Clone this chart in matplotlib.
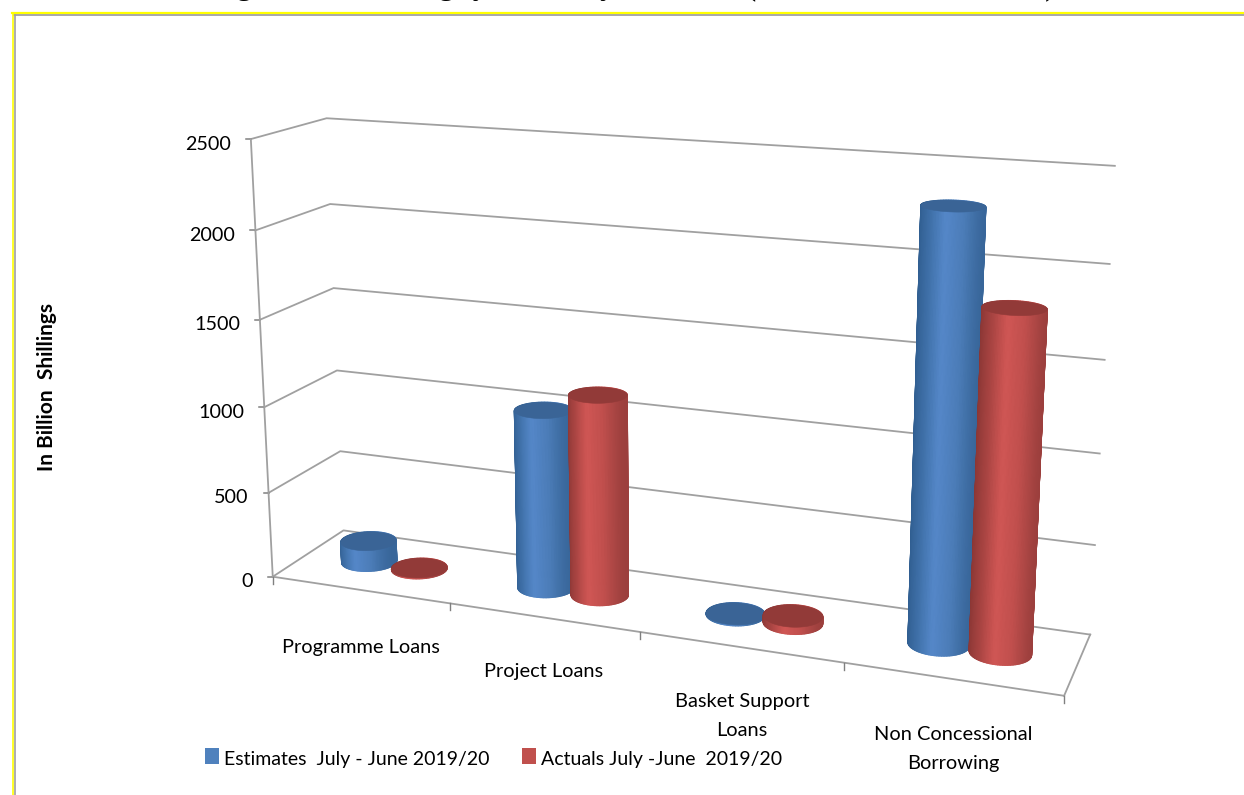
"""Foreign borrowing: 3D-look cylinder chart, drawn with a fitted projective camera."""
import numpy as np
import matplotlib
matplotlib.use("Agg")
import matplotlib.pyplot as plt
from matplotlib.collections import PolyCollection
from matplotlib.colors import LinearSegmentedColormap
from matplotlib.patches import Polygon, Rectangle

plt.rcParams["font.family"] = ["Lato", "DejaVu Sans"]

# ---------- data ----------
categories = ["Programme Loans", "Project Loans", "Basket Support\nLoans", "Non Concessional\nBorrowing"]
estimates = [125, 1030, 5, 2320]
actuals = [5, 1150, 40, 1830]
z_ticks = [0, 500, 1000, 1500, 2000, 2500]
series_names = ["Estimates  July - June 2019/20", "Actuals July -June  2019/20"]
ylabel = "In Billion  Shillings"

# ---------- camera: (x, depth, value) -> picture pixel, fitted on the box corners ----------
N = len(categories)
ZMAX = z_ticks[-1]
anchors = [
    (0, 0, 0, 273, 577), (0, 0, 2500, 250, 140),
    (0, 1, 0, 343, 531), (0, 1, 500, 340, 451), (0, 1, 1000, 337, 371),
    (0, 1, 1500, 333, 288), (0, 1, 2000, 330, 205), (0, 1, 2500, 327, 118),
    (4, 1, 0, 1090, 633), (4, 1, 500, 1095, 545), (4, 1, 1000, 1100, 452),
    (4, 1, 1500, 1105, 360), (4, 1, 2000, 1111, 264), (4, 1, 2500, 1114, 167),
    (1, 0, 0, 450, 604), (2, 0, 0, 640, 633), (3, 0, 0, 843, 664), (4, 0, 0, 1064, 696),
    (0, 0, 500, 270, 493), (0, 0, 1000, 265, 405), (0, 0, 1500, 260, 318), (0, 0, 2000, 255, 230),
]


def fit_camera(pts):
    rows = []
    for x, d, z, u, v in pts:
        w = [x, d, z / ZMAX, 1.0]
        rows.append(w + [0, 0, 0, 0] + [-u / 1000 * c for c in w])
        rows.append([0, 0, 0, 0] + w + [-v / 1000 * c for c in w])
    return np.linalg.svd(np.array(rows))[2][-1].reshape(3, 4)


CAM = fit_camera(anchors)


def project(x, d, z):
    x, d, z = np.broadcast_arrays(np.asarray(x, float), np.asarray(d, float), np.asarray(z, float))
    w = np.stack([x, d, z / ZMAX, np.ones_like(x)])
    p = CAM @ w.reshape(4, -1)
    return (1000 * p[:2] / p[2]).T


GRID = "#a0a0a0"
BLUE_MAP = LinearSegmentedColormap.from_list("b", ["#2f5d8f", "#3f70a8", "#5487c8", "#4c7db8", "#38669a"])
RED_MAP = LinearSegmentedColormap.from_list("r", ["#8a3634", "#a84442", "#cf5654", "#c04f4d", "#9c3f3d"])
BLUE_TOP, RED_TOP = "#3a6496", "#923a38"
BLUE_KEY, RED_KEY = "#4f81bd", "#c0504d"


def cylinder(ax, xc, value, cmap, top, z):
    rx, rd = 0.142, 0.19
    dc = 0.5
    th = np.linspace(-np.pi, np.pi, 121)
    x = xc + rx * np.cos(th)
    d = dc + rd * np.sin(th)
    low = project(x, d, 0 * th)
    high = project(x, d, value + 0 * th)
    quads = [[low[i], low[i + 1], high[i + 1], high[i]] for i in range(len(th) - 1)]
    mid = 0.5 * (th[:-1] + th[1:])
    shade = cmap((np.cos(mid) + 1) / 2)
    order = np.argsort(-np.sin(mid))  # back of the cylinder first
    quads = [quads[i] for i in order]
    shade = shade[order]
    ax.add_collection(PolyCollection(quads, facecolors=shade, edgecolors=shade, linewidths=1.0, zorder=z))
    ax.add_patch(Polygon(high, closed=True, fc=top, ec=top, lw=0.4, zorder=z + 0.5))


fig = plt.figure(figsize=(12.44, 7.95), dpi=100, facecolor="white")
ax = fig.add_axes([0, 0, 1, 1])
ax.set_xlim(0, 1244)
ax.set_ylim(795, 0)
ax.axis("off")

# page frame
ax.plot([12, 1244], [13, 13], color="#ffff00", lw=1.6, zorder=1)
ax.plot([14, 1244], [15, 15], color="#9a9a9a", lw=1.2, zorder=1)
ax.plot([13, 13], [13, 795], color="#ffff00", lw=1.2, zorder=1)
ax.plot([15, 15], [15, 795], color="#a0a0a0", lw=1.2, zorder=1)

# clipped heading of the page above the chart, only descenders fall on the canvas
for word, xpos in [("Foreign", 168), ("Borrowing", 314), ("July", 433), ("to May 2020", 523),
                   ("(Estimates and Actuals)", 746)]:
    ax.text(xpos, -6, word, family="Liberation Serif", weight="bold", fontsize=22,
            color="black", va="baseline", ha="left", zorder=5)

# grid on back wall and side wall
for v in z_ticks:
    line = project([0, 0, 4], [0, 1, 1], [v, v, v])
    ax.plot(line[:, 0], line[:, 1], color=GRID, lw=1.3, zorder=2)
    start = project(0, 0, v)[0]
    ax.plot([start[0] - 5, start[0]], [start[1], start[1]], color="#808080", lw=1.1, zorder=2)
    ax.text(start[0] - 20, start[1] + 5, str(v), ha="right", va="center", fontsize=14.2, color="black")

# floor and axes
edges = [([0, 4], [0, 0], [0, 0]), ([4, 4], [0, 1], [0, 0]), ([0, 0], [0, 0], [0, ZMAX])]
for ex, ed, ez in edges:
    line = project(ex, ed, ez)
    ax.plot(line[:, 0], line[:, 1], color=GRID, lw=1.3, zorder=2)
for i in range(N + 1):
    t = project(i, 0, 0)[0]
    ax.plot([t[0], t[0]], [t[1], t[1] + 7], color="#808080", lw=1.0, zorder=2)

# cylinders
for i in range(N):
    cylinder(ax, i + 0.355, estimates[i], BLUE_MAP, BLUE_TOP, 3 + 2 * i)
    cylinder(ax, i + 0.645, actuals[i], RED_MAP, RED_TOP, 4 + 2 * i)

# category labels
label_at = [(361, 647), (544, 671), (742, 716), (953, 749)]
for name, (lx, ly) in zip(categories, label_at):
    ax.text(lx, ly, name, ha="center", va="center", fontsize=14.4, linespacing=1.9, color="black")

ax.text(47, 387, ylabel, rotation=90, ha="center", va="center", fontsize=15, weight="bold", color="black")

# legend
for name, col, kx, tx in zip(series_names, [BLUE_KEY, RED_KEY], [205, 522], [224, 541]):
    ax.add_patch(Rectangle((kx, 748), 14, 16, fc=col, ec="none", zorder=3))
    ax.text(tx, 760, name, ha="left", va="center", fontsize=14, color="black")

fig.savefig("out.png", dpi=100)
